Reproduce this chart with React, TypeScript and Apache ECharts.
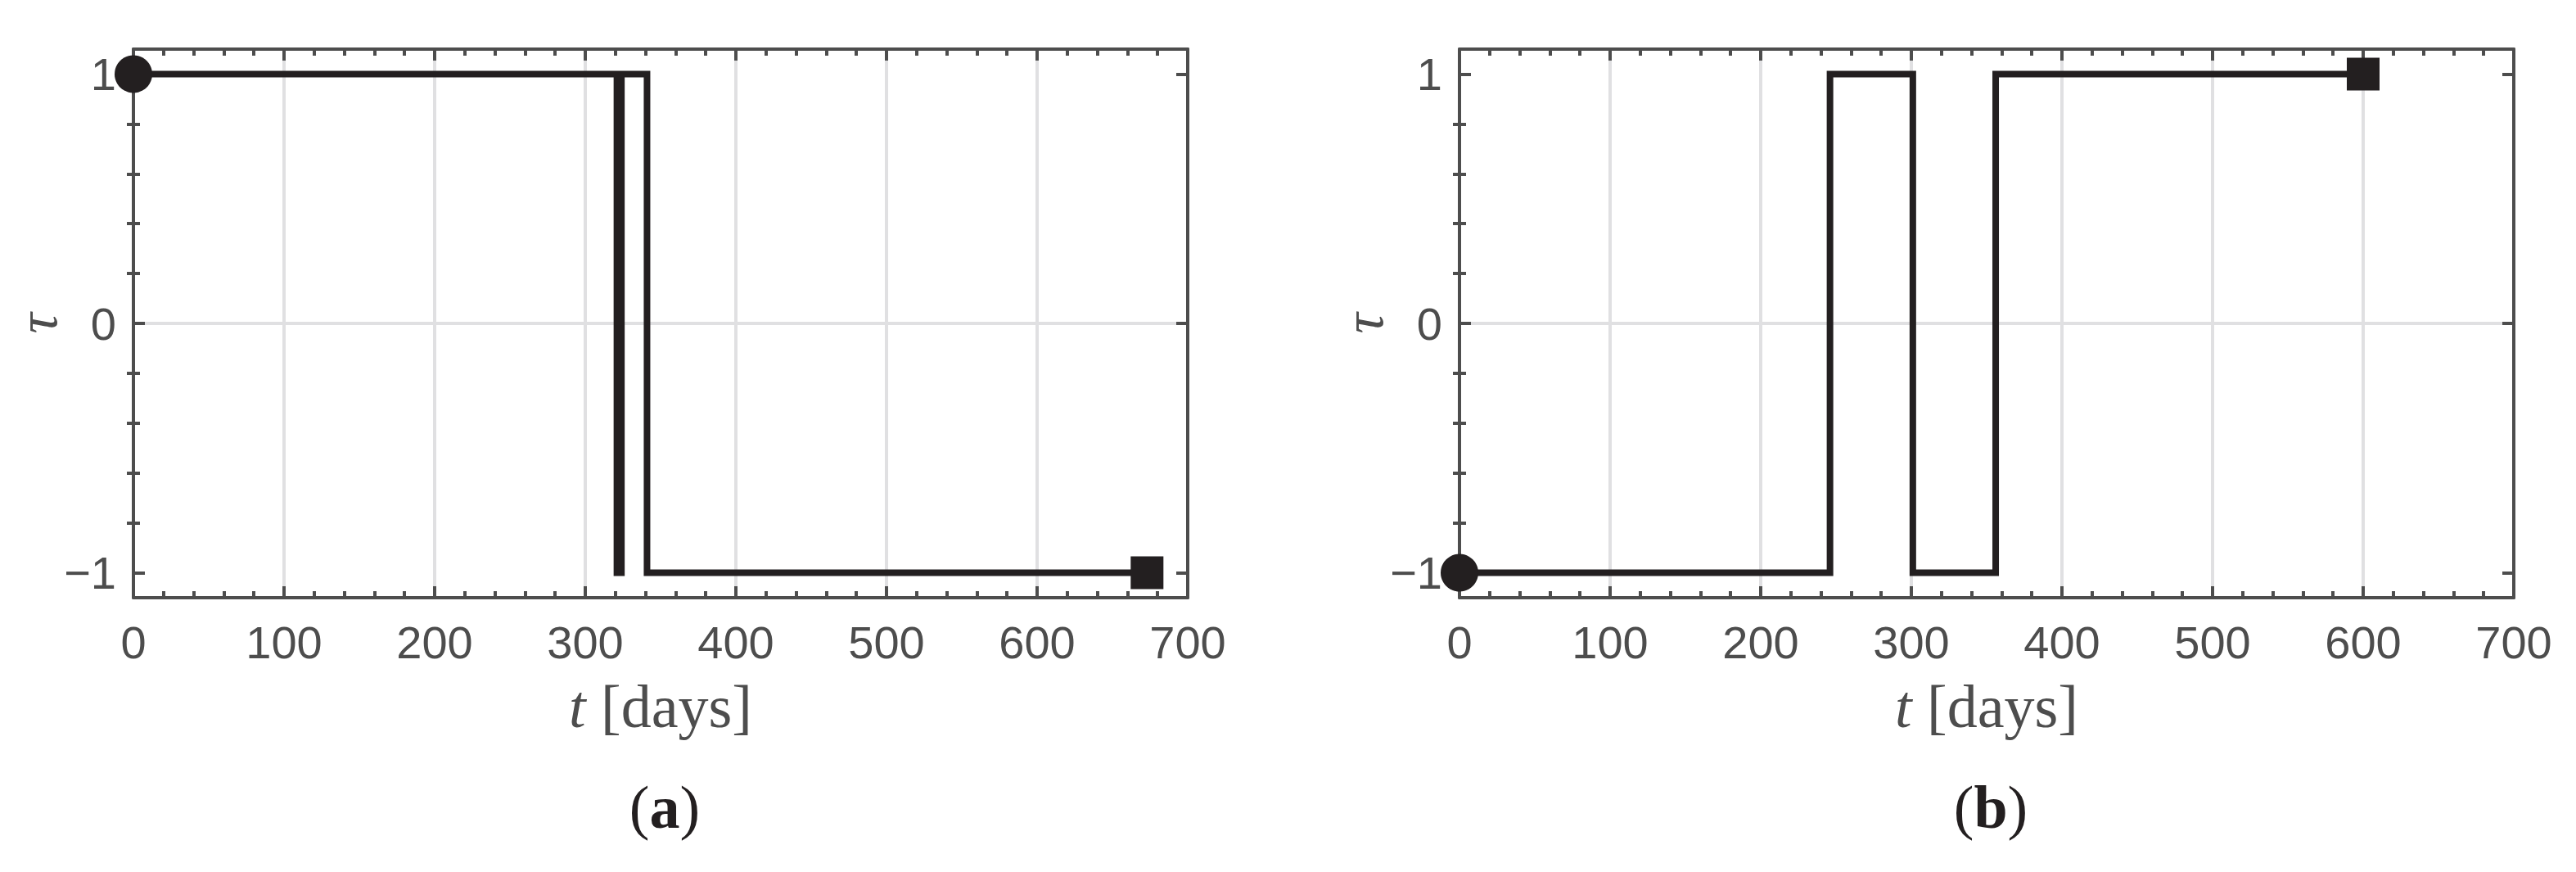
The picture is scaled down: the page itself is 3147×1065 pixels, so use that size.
import React, { useEffect, useRef } from "react";
import * as echarts from "echarts";

// ---- data ----
const xTicks = [0, 100, 200, 300, 400, 500, 600, 700];
const yTicks = [-1, 0, 1];
const yMinorTicks = [-0.8, -0.6, -0.4, -0.2, 0.2, 0.4, 0.6, 0.8];

// switching times [days] (last entry = end of horizon) and tau in each interval
const switchTimesA = [0, 321, 324, 341, 673];
const tauStatesA = [1, -1, 1, -1];
const switchTimesB = [0, 246, 301, 356, 600];
const tauStatesB = [-1, 1, -1, 1];
const panelLetters = ["a", "b"];

// ---- layout / style ----
const AXIS = "#4d4d4d";
const GRIDC = "#e0e0e2";
const INK = "#231f20";
const SANS = "'Liberation Sans', Arial, sans-serif";
const SERIF = "'Liberation Serif', 'Times New Roman', serif";
const GRID_W = 1288;
const GRID_H = 670;
const GRID_TOP = 60;
const GRID_LEFTS = [163, 1783];

function stepPoints(times: number[], states: number[]) {
  const pts: number[][] = [];
  for (let i = 0; i < states.length; i++) {
    pts.push([times[i], states[i]]);
    pts.push([times[i + 1], states[i]]);
  }
  return pts;
}

const fmtMinus = (v: number) => (v < 0 ? "\u2212" + Math.abs(v) : String(v));

function buildOption() {
  const panels = [
    { times: switchTimesA, states: tauStatesA },
    { times: switchTimesB, states: tauStatesB },
  ];
  const grid: any[] = [];
  const xAxis: any[] = [];
  const yAxis: any[] = [];
  const series: any[] = [];
  const graphic: any[] = [];
  const tickLine = { color: AXIS, width: 4 };

  panels.forEach((p, g) => {
    grid.push({ left: GRID_LEFTS[g], top: GRID_TOP, width: GRID_W, height: GRID_H, containLabel: false });
    const xBase = {
      gridIndex: g,
      type: "value",
      min: xTicks[0],
      max: xTicks[xTicks.length - 1],
      interval: xTicks[1] - xTicks[0],
      axisLine: { show: true, onZero: false, lineStyle: { color: AXIS, width: 4 } },
      axisTick: { show: true, inside: true, length: 14, lineStyle: tickLine },
      minorTick: { show: true, splitNumber: 5, length: 8, lineStyle: tickLine },
    };
    xAxis.push({
      ...xBase,
      position: "bottom",
      axisLabel: { show: true, margin: 26, fontSize: 56, fontFamily: SANS, color: AXIS },
      splitLine: { show: true, showMinLine: false, showMaxLine: false, lineStyle: { color: GRIDC, width: 4 } },
    });
    xAxis.push({ ...xBase, position: "top", axisLabel: { show: false }, splitLine: { show: false } });

    const yBase = {
      gridIndex: g,
      type: "value",
      min: -1.1,
      max: 1.1,
      splitNumber: 2,
    };
    yAxis.push({
      ...yBase,
      position: "left",
      axisLine: { show: true, onZero: false, lineStyle: { color: AXIS, width: 4 } },
      axisTick: { show: true, inside: true, length: 14, customValues: yTicks, lineStyle: tickLine },
      axisLabel: {
        show: true,
        customValues: yTicks,
        margin: 21,
        fontSize: 56,
        fontFamily: SANS,
        color: AXIS,
        formatter: (v: number) => fmtMinus(v),
      },
      splitLine: { show: true, showMinLine: false, showMaxLine: false, lineStyle: { color: GRIDC, width: 4 } },
    });
    yAxis.push({
      ...yBase,
      position: "right",
      axisLine: { show: true, onZero: false, lineStyle: { color: AXIS, width: 4 } },
      axisTick: { show: true, inside: true, length: 14, customValues: yTicks, lineStyle: tickLine },
      axisLabel: { show: false },
      splitLine: { show: false },
    });
    ["left", "right"].forEach((pos) => {
      yAxis.push({
        ...yBase,
        position: pos,
        axisLine: { show: false },
        axisTick: { show: true, inside: true, length: 8, customValues: yMinorTicks, lineStyle: tickLine },
        axisLabel: { show: false },
        splitLine: { show: false },
      });
    });

    const xi = 2 * g;
    const yi = 4 * g;
    const pts = stepPoints(p.times, p.states);
    series.push({
      type: "line",
      xAxisIndex: xi,
      yAxisIndex: yi,
      data: pts,
      showSymbol: false,
      clip: false,
      z: 3,
      lineStyle: { color: INK, width: 8, join: "miter", cap: "butt", opacity: 1 },
    });
    series.push({
      type: "scatter",
      xAxisIndex: xi,
      yAxisIndex: yi,
      clip: false,
      z: 4,
      data: [pts[0]],
      symbol: "circle",
      symbolSize: 46,
      itemStyle: { color: INK, opacity: 1 },
    });
    series.push({
      type: "scatter",
      xAxisIndex: xi,
      yAxisIndex: yi,
      clip: false,
      z: 4,
      data: [pts[pts.length - 1]],
      symbol: "rect",
      symbolSize: 40,
      itemStyle: { color: INK, opacity: 1 },
    });

    const cx = GRID_LEFTS[g] + GRID_W / 2;
    graphic.push({
      type: "text",
      x: cx,
      y: 863,
      style: {
        text: "{i|t} [days]",
        fontFamily: SERIF,
        fontSize: 74,
        fill: AXIS,
        align: "center",
        verticalAlign: "middle",
        rich: { i: { fontStyle: "italic", fontFamily: SERIF, fontSize: 74, fill: AXIS } },
      },
    });
    graphic.push({
      type: "text",
      x: GRID_LEFTS[g] - 118,
      y: GRID_TOP + GRID_H / 2,
      rotation: Math.PI / 2,
      style: {
        text: "\u03c4",
        fontFamily: SERIF,
        fontStyle: "italic",
        fontSize: 70,
        lineHeight: 40,
        fill: AXIS,
        align: "center",
        verticalAlign: "middle",
      },
    });
    graphic.push({
      type: "text",
      x: cx + 5,
      y: 986,
      style: {
        text: "({b|" + panelLetters[g] + "})",
        fontFamily: SERIF,
        fontSize: 74,
        fill: INK,
        align: "center",
        verticalAlign: "middle",
        rich: { b: { fontWeight: "bold", fontFamily: SERIF, fontSize: 74, fill: INK } },
      },
    });
  });

  return {
    animation: false,
    backgroundColor: "#ffffff",
    grid,
    xAxis,
    yAxis,
    series,
    graphic,
  };
}

export default function App() {
  const ref = useRef<HTMLDivElement>(null);
  useEffect(() => {
    if (!ref.current) return;
    const chart = echarts.init(ref.current, undefined, { renderer: "svg" });
    chart.setOption(buildOption() as any);
    return () => chart.dispose();
  }, []);
  return (
    <div
      ref={ref}
      style={{ position: "absolute", left: 0, top: 0, width: 3147, height: 1065, background: "#fff" }}
    />
  );
}
